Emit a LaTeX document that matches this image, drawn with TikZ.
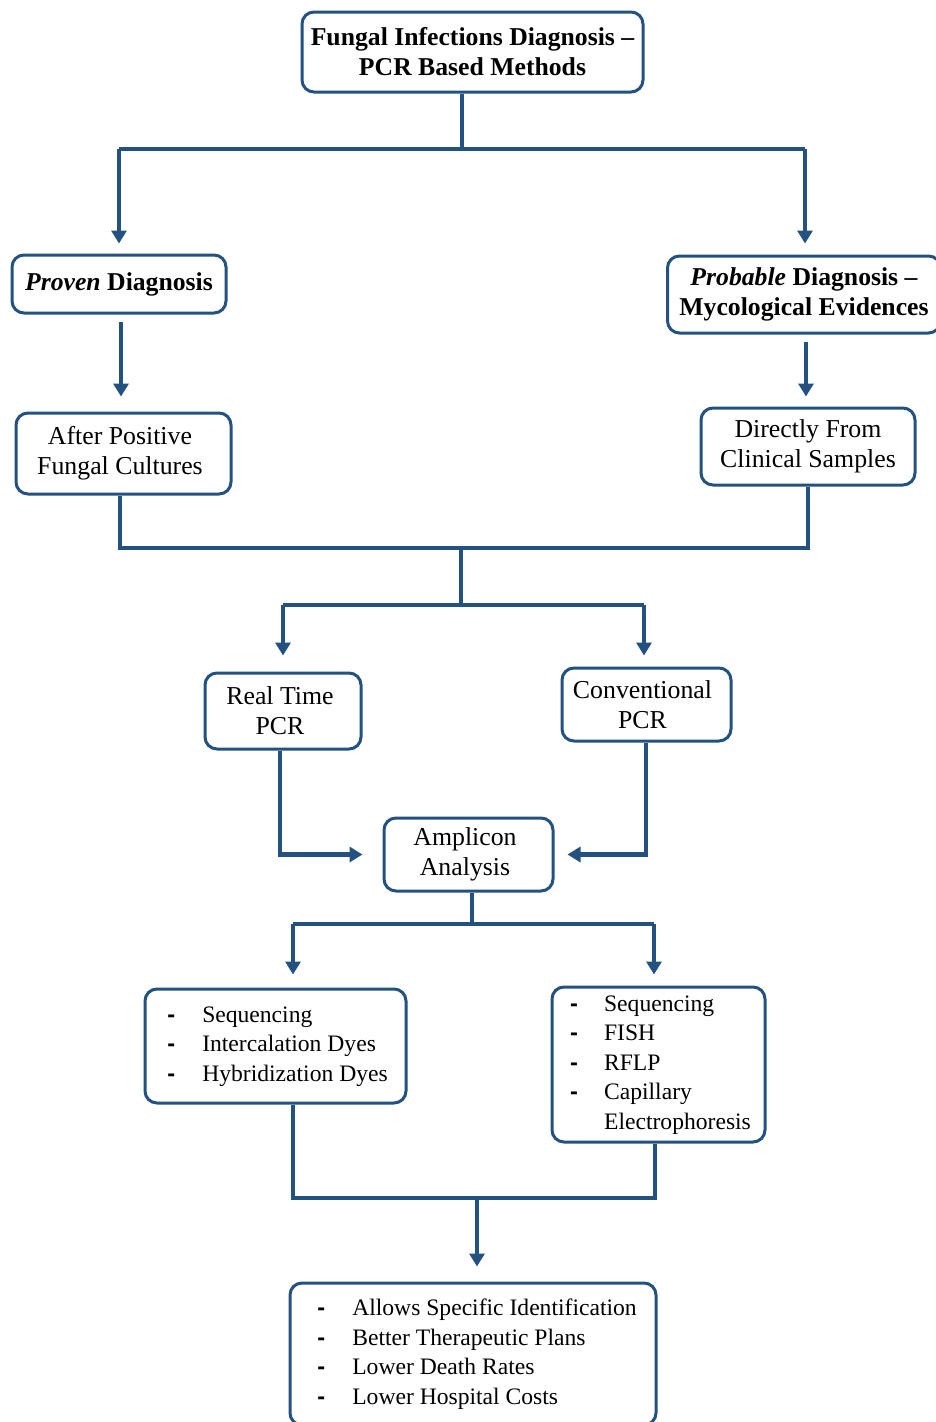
\documentclass[tikz,border=0pt]{standalone}
\usepackage{fontspec}
\setmainfont{Liberation Serif}
\newfontfamily\dashfont{Liberation Sans}
\usetikzlibrary{arrows.meta,calc}
\definecolor{dblue}{RGB}{35,82,128}
\newcommand\bsz{\fontsize{25.7}{30}\selectfont\bfseries}
\newcommand\msz{\fontsize{25.8}{30}\selectfont}
\newcommand\rsz{\fontsize{23.6}{29.5}\selectfont}
\newcommand\dsh{{\dashfont\bfseries -}}
\tikzset{
  box/.style={draw=dblue, line width=3pt, rounded corners=12pt, fill=white, inner sep=0pt, align=center, font=\msz},
  lbox/.style={box, font=\rsz},
  bbox/.style={box, font=\bsz},
  conn/.style={draw=dblue, line width=4.5pt},
  arr/.style={conn, -{Triangle[length=13pt,width=15pt]}},
}
\begin{document}
\begin{tikzpicture}[x=1pt,y=-1pt]
\useasboundingbox (0,0) rectangle (936,1422);
\clip (0,0) rectangle (936,1422);
\fill[white] (0,0) rectangle (936,1422);
% nodes
\node[bbox, minimum width=341, minimum height=80] (top) at (472.5,52) {Fungal Infections Diagnosis –\\PCR Based Methods};
\node[bbox, minimum width=214, minimum height=58] (proven) at (119,284) {\textit{Proven} Diagnosis};
\node[bbox, minimum width=273, minimum height=77] (probable) at (804,294.5) {\textit{Probable} Diagnosis –\\Mycological Evidences};
\node[box, minimum width=215, minimum height=81] (after) at (123.5,453.5) {After Positive\hspace*{7pt}\\Fungal Cultures\hspace*{7pt}};
\node[box, minimum width=214, minimum height=77] (directly) at (808,446.5) {Directly From\\Clinical Samples};
\node[box, minimum width=156, minimum height=76] (realtime) at (283,711) {Real Time\hspace*{6pt}\\PCR\hspace*{6pt}};
\node[box, minimum width=169, minimum height=73] (conv) at (646.5,704.5) {Conventional\hspace*{8pt}\\PCR\hspace*{8pt}};
\node[box, minimum width=169, minimum height=73] (amp) at (468.5,854.5) {Amplicon\hspace*{7pt}\\Analysis\hspace*{7pt}};
\node[lbox, minimum width=261, minimum height=114] (leftlist) at (275.5,1046) {\begin{tabular}{@{\hspace*{4pt}}p{35pt}@{}l@{}}
\dsh & Sequencing\\
\dsh & Intercalation Dyes\\
\dsh & Hybridization Dyes
\end{tabular}};
\node[lbox, minimum width=213, minimum height=155] (rightlist) at (658.5,1064.5) {\begin{tabular}{@{\hspace*{4pt}}p{34pt}@{}l@{}}
\dsh & Sequencing\\
\dsh & FISH\\
\dsh & RFLP\\
\dsh & Capillary\\
 & Electrophoresis
\end{tabular}};
\node[lbox, minimum width=366, minimum height=142] (bottom) at (473,1354) {\begin{tabular}{@{\hspace*{8pt}}p{35pt}@{}l@{}}
\dsh & Allows Specific Identification\\
\dsh & Better Therapeutic Plans\\
\dsh & Lower Death Rates\\
\dsh & Lower Hospital Costs
\end{tabular}};
% junction coordinates
\coordinate (j1) at (462,149);
\coordinate (jL) at (119,149);
\coordinate (jR) at (805,149);
\coordinate (jA) at (120,548);
\coordinate (jD) at (808,548);
\coordinate (jM) at (461,548);
\coordinate (jRT) at (283,605);
\coordinate (jCV) at (644,605);
\coordinate (k1) at (280,854.5);
\coordinate (k2) at (646,854.5);
\coordinate (m) at (472,924);
\coordinate (mL) at (293,924);
\coordinate (mR) at (654,924);
\coordinate (n1) at (293,1198);
\coordinate (n2) at (655,1198);
\coordinate (n3) at (477,1198);
% connectors
\draw[conn] (j1 |- top.south) -- (j1);
\draw[conn] (jL) -- (jR);
\draw[arr, shorten >=10pt] (jL) -- (jL |- proven.north);
\draw[arr, shorten >=11pt] (jR) -- (jR |- probable.north);
\draw[arr, shorten <=7pt, shorten >=15pt] ([xshift=2pt]proven.south) -- ([xshift=2pt]proven.south |- after.north);
\draw[arr, shorten <=7pt, shorten >=10pt] ([xshift=2pt]probable.south) -- ([xshift=2pt]probable.south |- directly.north);
\draw[conn] (jA |- after.south) -- (jA) -- (jD) -- (directly.south);
\draw[conn] (jM) -- (jM |- jRT);
\draw[conn] (jRT) -- (jCV);
\draw[arr, shorten >=16pt] (jRT) -- (jRT |- realtime.north);
\draw[arr, shorten >=11pt] (jCV) -- (jCV |- conv.north);
\draw[arr, shorten >=20pt] (k1 |- realtime.south) -- (k1) -- (amp.west);
\draw[arr, shorten >=13pt] (k2 |- conv.south) -- (k2) -- (amp.east);
\draw[conn] (m |- amp.south) -- (m);
\draw[conn] (mL) -- (mR);
\draw[arr, shorten >=13pt] (mL) -- (mL |- leftlist.north);
\draw[arr, shorten >=11pt] (mR) -- (mR |- rightlist.north);
\draw[conn] (n1 |- leftlist.south) -- (n1) -- (n2) -- (n2 |- rightlist.south);
\draw[arr, shorten >=15pt] (n3) -- (n3 |- bottom.north);
\end{tikzpicture}
\end{document}
